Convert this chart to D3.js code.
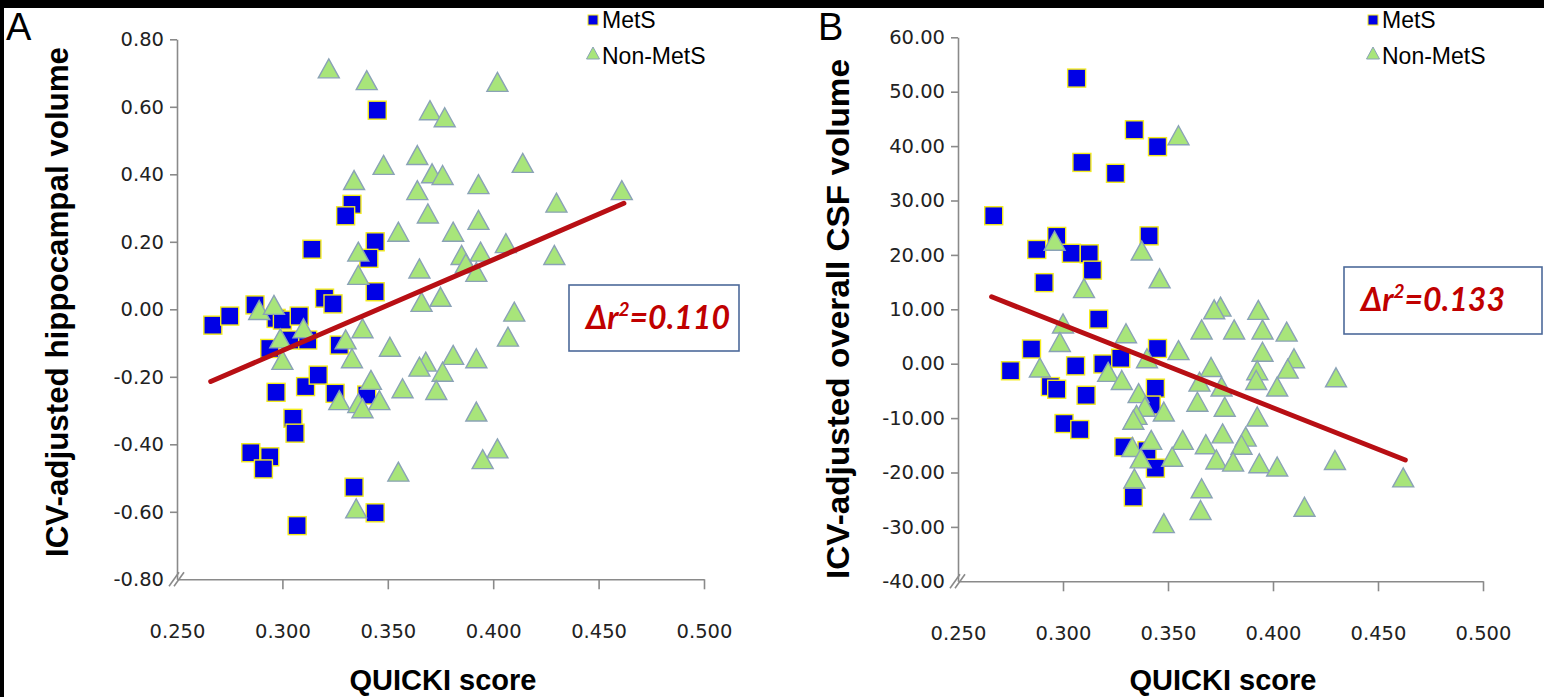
<!DOCTYPE html>
<html><head><meta charset="utf-8">
<script src="https://cdn.jsdelivr.net/npm/d3@7"></script>
<style>body{margin:0;background:#000;} svg{display:block}</style>
</head><body>
<svg id="chart" width="1544" height="697"></svg>
<script>
// ---------- data ----------
const xTicks = [0.25, 0.30, 0.35, 0.40, 0.45, 0.50];
const yTicksA = [-0.8, -0.6, -0.4, -0.2, 0, 0.2, 0.4, 0.6, 0.8];
const yTicksB = [-40, -30, -20, -10, 0, 10, 20, 30, 40, 50, 60];
const seriesNames = ["MetS", "Non-MetS"];
const panelLetters = ["A", "B"];
const yTitles = ["ICV-adjusted hippocampal volume", "ICV-adjusted overall CSF volume"];
const xTitle = "QUICKI score";
const deltaR2 = ["0.110", "0.133"];

const metsA = [[0.345,0.590],[0.333,0.311],[0.330,0.277],[0.314,0.178],[0.344,0.200],[0.341,0.151],[0.344,0.052],
 [0.267,-0.047],[0.275,-0.020],[0.287,0.013],[0.297,-0.027],[0.300,-0.032],[0.308,-0.020],[0.320,0.033],[0.324,0.016],
 [0.304,-0.091],[0.312,-0.091],[0.294,-0.116],[0.327,-0.106],[0.297,-0.246],[0.311,-0.229],[0.317,-0.195],[0.325,-0.249],
 [0.340,-0.254],[0.305,-0.323],[0.306,-0.367],[0.285,-0.425],[0.294,-0.437],[0.291,-0.473],[0.334,-0.527],[0.344,-0.603],[0.307,-0.641]];
const nonMetsA = [[0.322,0.714],[0.340,0.679],[0.364,0.457],[0.348,0.428],[0.334,0.383],[0.364,0.353],[0.355,0.230],
 [0.336,0.171],[0.336,0.102],[0.365,0.121],[0.289,-0.002],[0.296,0.013],[0.310,-0.056],[0.299,-0.086],[0.300,-0.150],
 [0.330,-0.089],[0.333,-0.145],[0.338,-0.056],[0.351,-0.111],[0.327,-0.269],[0.342,-0.209],[0.336,-0.278],[0.338,-0.293],
 [0.346,-0.269],[0.357,-0.234],[0.355,-0.481],[0.335,-0.590],[0.402,0.674],[0.370,0.590],[0.377,0.569],[0.414,0.434],
 [0.371,0.403],[0.376,0.398],[0.393,0.371],[0.461,0.353],[0.430,0.316],[0.369,0.284],[0.393,0.265],[0.381,0.230],
 [0.406,0.196],[0.385,0.161],[0.394,0.171],[0.429,0.161],[0.387,0.136],[0.392,0.111],[0.375,0.037],[0.366,0.022],
 [0.410,-0.007],[0.407,-0.081],[0.381,-0.135],[0.392,-0.145],[0.368,-0.155],[0.365,-0.170],[0.376,-0.185],[0.373,-0.239],
 [0.392,-0.303],[0.402,-0.412],[0.395,-0.444]];
const fitA = [[0.266,-0.214],[0.462,0.314]];

const metsB = [[0.3065,52.5],[0.334,43.0],[0.345,39.9],[0.309,37.0],[0.325,35.0],[0.267,27.2],[0.297,23.4],[0.2875,21.0],
 [0.341,23.5],[0.304,20.3],[0.3125,20.2],[0.314,17.2],[0.291,14.9],[0.317,8.2],[0.345,2.8],[0.285,2.7],[0.275,-1.3],
 [0.306,-0.4],[0.319,-0.05],[0.3275,1.0],[0.294,-4.2],[0.297,-4.7],[0.311,-5.8],[0.344,-4.5],[0.342,-7.6],[0.3005,-11.0],
 [0.308,-12.1],[0.329,-15.3],[0.340,-16.0],[0.344,-19.2],[0.3335,-24.5]];
const nonMetsB = [[0.355,42.0],[0.296,22.6],[0.3375,20.8],[0.346,15.7],[0.310,13.9],[0.300,7.4],[0.2985,4.0],[0.330,5.6],
 [0.355,2.5],[0.340,1.0],[0.289,-0.7],[0.3215,-1.5],[0.328,-3.0],[0.336,-5.4],[0.339,-7.9],[0.335,-9.4],[0.348,-8.8],
 [0.3335,-10.3],[0.357,-14.0],[0.342,-14.0],[0.333,-15.3],[0.337,-17.4],[0.352,-17.1],[0.334,-21.1],[0.348,-29.3],
 [0.375,10.5],[0.372,10.0],[0.393,9.9],[0.366,6.3],[0.3815,6.3],[0.395,6.3],[0.4065,5.9],[0.395,2.2],[0.410,1.0],
 [0.407,-0.9],[0.3705,-0.6],[0.3925,-1.2],[0.365,-3.3],[0.3755,-4.2],[0.392,-3.0],[0.402,-4.2],[0.430,-2.5],[0.364,-7.0],
 [0.377,-7.9],[0.3925,-9.7],[0.368,-14.8],[0.376,-12.8],[0.387,-13.4],[0.385,-14.9],[0.373,-17.6],[0.381,-18.0],
 [0.3935,-18.3],[0.402,-18.9],[0.4295,-17.7],[0.462,-20.9],[0.366,-22.9],[0.3655,-26.9],[0.415,-26.3]];
const fitB = [[0.266,12.3],[0.463,-17.7]];

// ---------- layout ----------
const svg = d3.select("#chart");
svg.append("rect").attr("x",4).attr("y",8).attr("width",1540).attr("height",689).attr("fill","#fff");

const panels = [
  {mets: metsA, non: nonMetsA, fit: fitA, yTicks: yTicksA, yDom: [-0.8, 0.8],
   left: 177, right: 704, top: 39.3, bottom: 579.3, letterX: 6, titleX: 57, titleY: 302, titleLen: 510, xTitleX: 443,
   legX: 593, box: [569, 285, 170, 66]},
  {mets: metsB, non: nonMetsB, fit: fitB, yTicks: yTicksB, yDom: [-40, 60],
   left: 958, right: 1483, top: 37.3, bottom: 581.3, letterX: 818, titleX: 838, titleY: 319, titleLen: 520, xTitleX: 1223,
   legX: 1373, box: [1344, 267, 198, 67]}
];

const fmtY = d => d3.format(".2f")(d).replace("\u2212", "-");
const fmtX = d3.format(".3f");
const axisCol = "#8a8a8a";
const tri = "M0,-9.5L10.5,9.5L-10.5,9.5Z";

panels.forEach((p, i) => {
  const x = d3.scaleLinear().domain([0.25, 0.5]).range([p.left, p.right]);
  const y = d3.scaleLinear().domain(p.yDom).range([p.bottom, p.top]);
  const g = svg.append("g");

  const ya = g.append("g").attr("transform", `translate(${p.left},0)`)
    .call(d3.axisLeft(y).tickValues(p.yTicks).tickFormat(fmtY).tickSize(7).tickSizeOuter(0).tickPadding(6));
  const xa = g.append("g").attr("transform", `translate(0,${p.bottom})`)
    .call(d3.axisBottom(x).tickValues(xTicks).tickFormat(fmtX).tickSize(10).tickSizeOuter(0).tickPadding(35));
  [ya, xa].forEach(a => {
    a.select(".domain").attr("stroke", axisCol).attr("stroke-width", 1.6);
    a.selectAll(".tick line").attr("stroke", axisCol).attr("stroke-width", 1.6);
    a.selectAll(".tick text").attr("fill", "#222").style("font-family", "DejaVu Sans")
      .style("font-size", "19.5px");
  });
  xa.selectAll(".tick").filter(d => d === 0.25).select("line").remove();
  ya.selectAll(".tick").filter(d => d === p.yDom[0]).select("line").remove();

  [0, 5].forEach(o => {
    g.append("line").attr("x1", p.left - 8 + o).attr("y1", p.bottom + 7)
      .attr("x2", p.left + 2 + o).attr("y2", p.bottom - 7)
      .attr("stroke", axisCol).attr("stroke-width", 1.6);
  });

  g.append("g").selectAll("rect").data(p.mets).join("rect")
    .attr("x", d => x(d[0]) - 9).attr("y", d => y(d[1]) - 9)
    .attr("width", 18).attr("height", 18)
    .attr("fill", "#0000e6").attr("stroke", "#f4ec1c").attr("stroke-width", 1.4);
  g.append("g").selectAll("path").data(p.non).join("path")
    .attr("d", tri).attr("transform", d => `translate(${x(d[0])},${y(d[1])})`)
    .attr("fill", "#a8e57a").attr("stroke", "#8aa2b6").attr("stroke-width", 1.4);

  g.append("line").attr("x1", x(p.fit[0][0])).attr("y1", y(p.fit[0][1]))
    .attr("x2", x(p.fit[1][0])).attr("y2", y(p.fit[1][1]))
    .attr("stroke", "#b80f14").attr("stroke-width", 5).attr("stroke-linecap", "round");

  g.append("text").attr("x", p.letterX).attr("y", 40).text(panelLetters[i])
    .style("font-family", "Liberation Sans").style("font-size", "38px").attr("fill", "#000");

  g.append("text").attr("transform", `translate(${p.titleX},${p.titleY}) rotate(-90)`)
    .attr("text-anchor", "middle").attr("dominant-baseline", "central").text(yTitles[i])
    .attr("textLength", p.titleLen).attr("lengthAdjust", "spacingAndGlyphs")
    .style("font-family", "Liberation Sans").style("font-weight", "bold").style("font-size", "31px");

  g.append("text").attr("x", p.xTitleX).attr("y", 690).attr("text-anchor", "middle")
    .text(xTitle).style("font-family", "Liberation Sans").style("font-weight", "bold").style("font-size", "29px");

  const lg = g.append("g");
  lg.append("rect").attr("x", p.legX - 5).attr("y", 15).attr("width", 10).attr("height", 10)
    .attr("fill", "#0000e6").attr("stroke", "#f4ec1c").attr("stroke-width", 1);
  lg.append("path").attr("d", "M0,-6L6.5,6L-6.5,6Z").attr("transform", `translate(${p.legX},${53})`)
    .attr("fill", "#a8e57a").attr("stroke", "#8aa2b6").attr("stroke-width", 1);
  seriesNames.forEach((s, k) => {
    lg.append("text").attr("x", p.legX + 9).attr("y", 20 + k * 36).attr("dominant-baseline", "central")
      .text(s).style("font-family", "Liberation Sans").style("font-size", "23px").attr("fill", "#000");
  });

  const [bx, by, bw, bh] = p.box;
  g.append("rect").attr("x", bx).attr("y", by).attr("width", bw).attr("height", bh)
    .attr("fill", "#fff").attr("stroke", "#4d6a9a").attr("stroke-width", 1.6);
  const t = g.append("text").attr("x", bx + 17).attr("y", by + 44)
    .style("font-family", "Lato").style("font-weight", "bold").style("font-style", "italic")
    .style("font-size", "32px").attr("fill", "#c00000");
  t.append("tspan").text("\u0394r");
  t.append("tspan").text("2").attr("dy", -13).style("font-size", "19px");
  t.append("tspan").text("=" + deltaR2[i]).attr("dy", 13);
});
</script>
</body></html>
